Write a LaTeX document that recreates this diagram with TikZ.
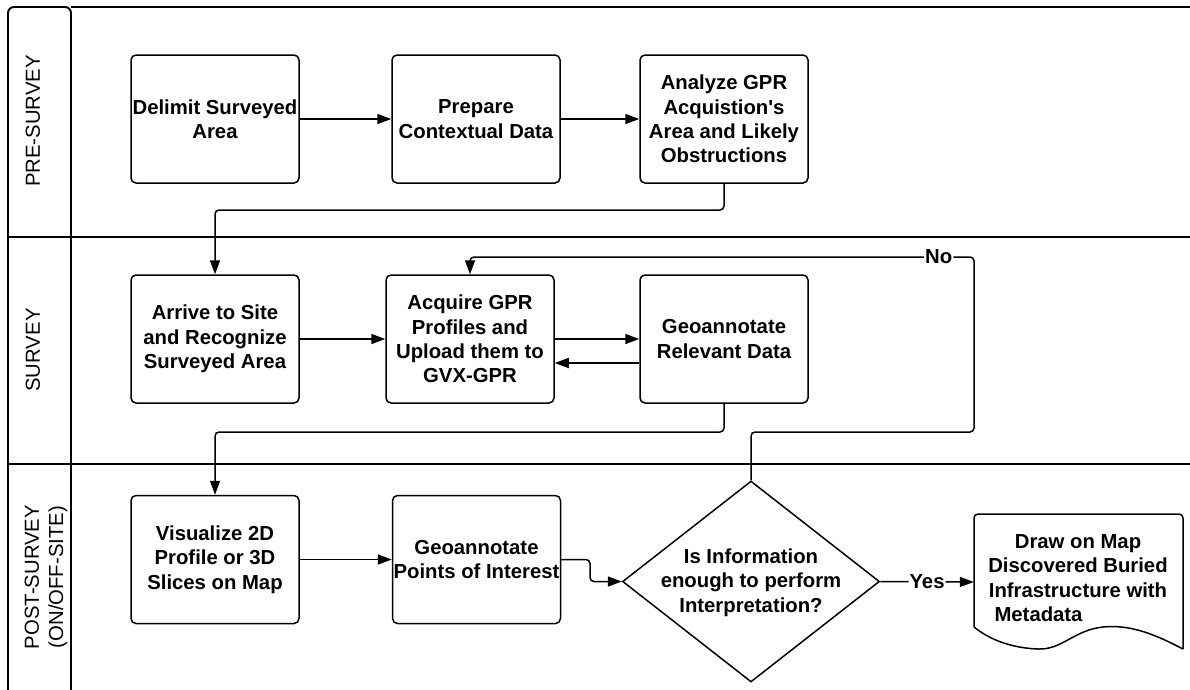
\documentclass[tikz,border=0pt]{standalone}
\usepackage{fontspec}
\setmainfont{Liberation Sans}
\usetikzlibrary{shapes.geometric,arrows.meta}
\newcommand\flowfont{\fontsize{20.3}{24.3}\selectfont\bfseries}
\newcommand\swimfont{\fontsize{20.3}{24.3}\selectfont}

\begin{document}
\begin{tikzpicture}[x=1pt,y=-1pt,
  lane/.style={line width=1.9pt},
  stepbox/.style={draw, line width=1.5pt, rounded corners=5pt,
    minimum width=168pt, minimum height=128pt, inner sep=0pt,
    align=center, font=\flowfont},
  conn/.style={line width=1.5pt, rounded corners=4pt},
  arr/.style={conn, -{Triangle[length=14pt,width=10pt]}},
  lanelabel/.style={rotate=90, align=center, font=\swimfont, inner sep=0pt},
  tag/.style={fill=white, inner sep=1pt, font=\flowfont}
]
\useasboundingbox (0,0) rectangle (1190,689);
\clip (0,0) rectangle (1190,689);

% swimlane frame
\draw[lane, rounded corners=6pt] (8,700) -- (8,7) -- (71,7) -- (71,700);
\draw[lane] (71,7) -- (1200,7);
\draw[lane] (8,237) -- (1200,237);
\draw[lane] (8,464) -- (1200,464);

% lane titles
\node[lanelabel] (lpre) at (33,121) {PRE-SURVEY};
\node[lanelabel] (lsur) at (33,350) {SURVEY};
\node[lanelabel] (lpost) at (46,577) {POST-SURVEY\\(ON/OFF-SITE)};

% pre-survey steps
\node[stepbox] (b1) at (215,119) {Delimit Surveyed\\Area};
\node[stepbox] (b2) at (476,119) {Prepare\\Contextual Data};
\node[stepbox] (b3) at (724,119) {Analyze GPR\\Acquistion\textquotesingle s\\Area and Likely\\Obstructions};

% survey steps
\node[stepbox] (b4) at (215,339) {Arrive to Site\\and Recognize\\Surveyed Area};
\node[stepbox] (b5) at (470,339) {Acquire GPR\\Profiles and\\Upload them to\\GVX-GPR};
\node[stepbox] (b6) at (724,339) {Geoannotate\\Relevant Data};

% post-survey steps
\node[stepbox] (b7) at (215,559.5) {Visualize 2D\\Profile or 3D\\Slices on Map};
\node[stepbox] (b8) at (476.5,559.5) {Geoannotate\\Points of Interest};

% decision
\node[draw, diamond, line width=1.5pt, minimum width=257pt, minimum height=201pt,
  inner sep=0pt,
  label={[align=center, font=\flowfont, yshift=-1pt]center:Is Information\\enough to perform\\Interpretation?}]
  (dec) at (751,581.5) {};

% document output
\node[minimum width=209pt, minimum height=136pt, inner sep=0pt] (doc) at (1078.5,582) {};
\draw[line width=1.5pt, rounded corners=4pt]
  (974,627) -- (974,514) -- (1183,514) -- (1183,649);
\draw[line width=1.5pt]
  (1183,649) .. controls (1158,636) and (1132,624) .. (1103,627)
  .. controls (1074,630) and (1062,650) .. (1038,649)
  .. controls (1012,648) and (990,640) .. (974,627);
\node[align=center, font=\flowfont, inner sep=0pt] (doctext) at (1078,578)
  {Draw on Map\\Discovered Buried\\Infrastructure with\\
   \rlap{\ Metadata}\phantom{Infrastructure with}};

% connectors
\draw[arr] (b1.east) -- (b2.west);
\draw[arr] (b2.east) -- (b3.west);
\draw[arr] (b3.south) -- (724,210) -| (b4.north);

\draw[arr] (b4.east) -- (b5.west);
\draw[arr] (b5.east) -- (b6.west);
\draw[arr] ([yshift=-24pt]b6.west) -- ([yshift=-24pt]b5.east);
\draw[arr] (b6.south) -- (724,432) -| (b7.north);

\draw[arr] (b7.east) -- (b8.west);
\draw[arr] (b8.east) -- (590,559.5) |- (dec.west);
\draw[arr] (dec.east) -- node[tag] (yes) {Yes} (doc.west);

\draw[arr] (dec.north) -- (751,432) -- (974,432) -- (974,257)
  -- node[tag, pos=0.07] (no) {No} (470,257) -- (b5.north);
\end{tikzpicture}
\end{document}
